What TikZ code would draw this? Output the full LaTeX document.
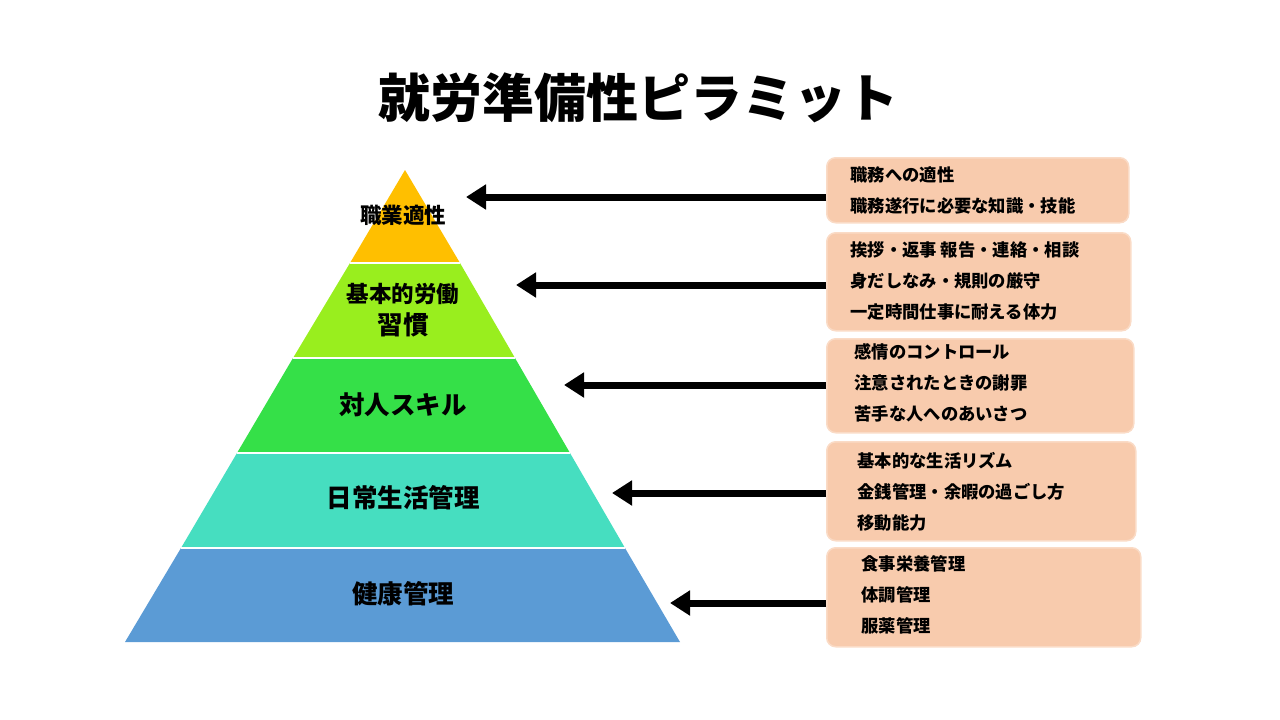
\documentclass[tikz,border=0pt]{standalone}
\usepackage{fontspec}
\setmainfont{Noto Sans CJK JP}
\usetikzlibrary{arrows.meta}
\definecolor{lvlA}{HTML}{FFBF00}
\definecolor{lvlB}{HTML}{99EE1E}
\definecolor{lvlC}{HTML}{35E048}
\definecolor{lvlD}{HTML}{46DEC0}
\definecolor{lvlE}{HTML}{5B9BD5}
\definecolor{notefill}{HTML}{F8CBAD}
\definecolor{noteline}{HTML}{FADBC6}
\tikzset{
  note/.style={draw=noteline,line width=1.5pt,fill=notefill,rounded corners=9pt,anchor=north west,inner sep=0pt},
  notetext/.style={anchor=west,font=\fontsize{17.3}{31}\selectfont\bfseries,align=left},
  level/.style={font=\fontsize{25.5}{32}\selectfont\bfseries,align=center},
  pointer/.style={line width=7pt,-{Triangle[length=20pt,width=24pt]}}
}
\begin{document}
\begin{tikzpicture}[x=1pt,y=-1pt]
\useasboundingbox (0,0) rectangle (1280,720);
% pyramid layers
\fill[lvlA] (405,170) -- (350,263) -- (460,263) -- cycle;
\fill[lvlB] (350,263) -- (460,263) -- (515,358) -- (293,358) -- cycle;
\fill[lvlC] (293,358) -- (515,358) -- (570,453) -- (237,453) -- cycle;
\fill[lvlD] (237,453) -- (570,453) -- (625,548) -- (181,548) -- cycle;
\fill[lvlE] (181,548) -- (625,548) -- (680,642) -- (125,642) -- cycle;
\foreach \y/\xa/\xb in {263/350/460,358/293/515,453/237/570,548/181/625}
  \draw[white,line width=2.5pt] (\xa,\y) -- (\xb,\y);
\node (title) at (638,98) {\fontsize{52}{58}\selectfont\bfseries 就労準備性ピラミット};
\node[level] (l1) at (403,215) {\fontsize{21.5}{26}\selectfont 職業適性};
\node[level] (l2) at (403,310) {\fontsize{22.5}{36}\selectfont 基本的労働\\習慣};
\node[level] (l3) at (403,405) {対人スキル};
\node[level] (l4) at (403,498) {日常生活管理};
\node[level] (l5) at (403,594) {健康管理};
% notes
\node[note,minimum width=302pt,minimum height=65pt] (b1) at (826,157) {};
\node[note,minimum width=304pt,minimum height=98pt] (b2) at (826,232) {};
\node[note,minimum width=307pt,minimum height=94pt] (b3) at (826,338) {};
\node[note,minimum width=309pt,minimum height=99pt] (b4) at (826,441) {};
\node[note,minimum width=314pt,minimum height=99pt] (b5) at (826,547) {};
\node[notetext] (t1) at (847,190) {職務への適性\\職務遂行に必要な知識・技能};
\node[notetext] (t2) at (847,281) {挨拶・返事\ 報告・連絡・相談\\身だしなみ・規則の厳守\\一定時間仕事に耐える体力};
\node[notetext] (t3) at (851,383) {感情のコントロール\\注意されたときの謝罪\\苦手な人へのあいさつ};
\node[notetext] (t4) at (854,492) {基本的な生活リズム\\金銭管理・余暇の過ごし方\\移動能力};
\node[notetext] (t5) at (858,595) {食事栄養管理\\体調管理\\服薬管理};
% arrows
\coordinate (p1) at (466,197);
\coordinate (p2) at (516,285);
\coordinate (p3) at (564,385);
\coordinate (p4) at (612,493);
\coordinate (p5) at (670,603);
\foreach \i/\y in {1/197,2/285,3/385,4/493,5/603}
  \draw[pointer] (b\i.west |- 0,\y) -- (p\i);
\end{tikzpicture}
\end{document}
